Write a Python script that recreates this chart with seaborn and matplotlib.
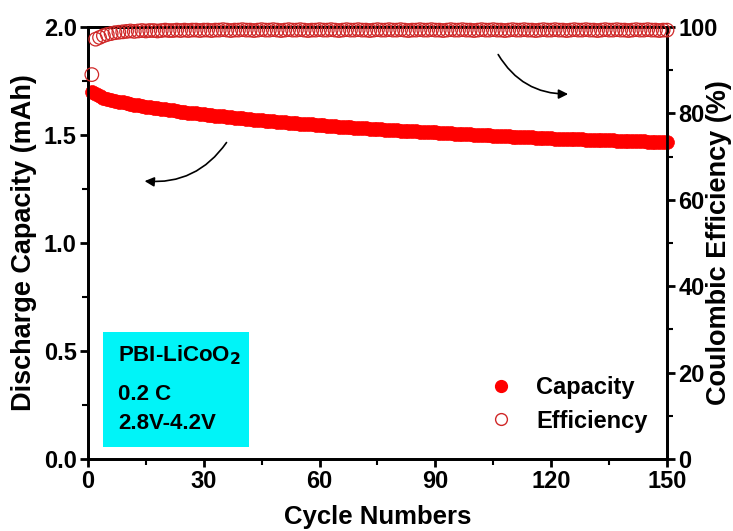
import numpy as np
import pandas as pd
import matplotlib
matplotlib.use('Agg')
import matplotlib.pyplot as plt
import seaborn as sns
from matplotlib.lines import Line2D
from matplotlib.patches import Rectangle
from matplotlib.ticker import MultipleLocator, FormatStrFormatter

# Datos
ciclos = list(range(1, 151))

capacidad = [
    1.700, 1.688, 1.680, 1.673, 1.667, 1.662, 1.658, 1.654, 1.651, 1.647,
    1.644, 1.641, 1.638, 1.635, 1.632, 1.629, 1.627, 1.624, 1.621, 1.619,
    1.616, 1.614, 1.611, 1.609, 1.607, 1.604, 1.602, 1.600, 1.598, 1.596,
    1.594, 1.592, 1.590, 1.588, 1.586, 1.584, 1.582, 1.580, 1.578, 1.577,
    1.575, 1.573, 1.571, 1.570, 1.568, 1.566, 1.565, 1.563, 1.562, 1.560,
    1.559, 1.557, 1.556, 1.554, 1.553, 1.551, 1.550, 1.549, 1.547, 1.546,
    1.545, 1.543, 1.542, 1.541, 1.539, 1.538, 1.537, 1.536, 1.534, 1.533,
    1.532, 1.531, 1.530, 1.528, 1.527, 1.526, 1.525, 1.524, 1.523, 1.522,
    1.521, 1.520, 1.519, 1.518, 1.517, 1.516, 1.515, 1.514, 1.513, 1.512,
    1.511, 1.510, 1.509, 1.508, 1.507, 1.506, 1.505, 1.504, 1.503, 1.502,
    1.501, 1.500, 1.499, 1.498, 1.497, 1.497, 1.496, 1.495, 1.494, 1.493,
    1.492, 1.491, 1.491, 1.490, 1.489, 1.488, 1.487, 1.487, 1.486, 1.485,
    1.484, 1.484, 1.483, 1.482, 1.482, 1.481, 1.480, 1.480, 1.479, 1.478,
    1.478, 1.477, 1.477, 1.476, 1.475, 1.475, 1.474, 1.474, 1.473, 1.473,
    1.472, 1.472, 1.471, 1.471, 1.470, 1.470, 1.469, 1.469, 1.468, 1.468,
]

eficiencia = [
    89.0, 97.2, 97.6, 98.0, 98.3, 98.5, 98.7, 98.8, 98.9, 99.0,
    99.1, 99.0, 99.1, 99.2, 99.1, 99.2, 99.2, 99.1, 99.2, 99.3,
    99.2, 99.2, 99.3, 99.2, 99.3, 99.2, 99.3, 99.3, 99.2, 99.3,
    99.3, 99.2, 99.3, 99.3, 99.4, 99.3, 99.2, 99.3, 99.3, 99.4,
    99.3, 99.3, 99.2, 99.3, 99.4, 99.3, 99.3, 99.4, 99.3, 99.2,
    99.3, 99.4, 99.3, 99.3, 99.4, 99.3, 99.2, 99.3, 99.3, 99.4,
    99.3, 99.3, 99.4, 99.3, 99.2, 99.3, 99.4, 99.3, 99.3, 99.4,
    99.3, 99.3, 99.2, 99.3, 99.4, 99.3, 99.3, 99.4, 99.3, 99.3,
    99.4, 99.3, 99.2, 99.3, 99.3, 99.4, 99.3, 99.3, 99.4, 99.3,
    99.3, 99.2, 99.3, 99.4, 99.3, 99.3, 99.4, 99.3, 99.3, 99.2,
    99.3, 99.4, 99.3, 99.3, 99.4, 99.3, 99.3, 99.2, 99.3, 99.4,
    99.3, 99.3, 99.4, 99.3, 99.3, 99.2, 99.3, 99.4, 99.3, 99.3,
    99.4, 99.3, 99.3, 99.2, 99.3, 99.4, 99.3, 99.3, 99.4, 99.3,
    99.3, 99.2, 99.3, 99.4, 99.3, 99.3, 99.4, 99.3, 99.3, 99.2,
    99.3, 99.4, 99.3, 99.3, 99.4, 99.3, 99.3, 99.2, 99.3, 99.3,
]

etiquetas_caja = ['PBI-LiCoO$_\\mathbf{2}$', '0.2 C', '2.8V-4.2V']


def main():
    df = pd.DataFrame({'Ciclo': ciclos, 'Capacidad': capacidad, 'Eficiencia': eficiencia})

    sns.set_theme(style="ticks")
    plt.rcParams['font.family'] = ['Liberation Sans', 'DejaVu Sans']
    plt.rcParams['font.weight'] = 'bold'
    plt.rcParams['mathtext.default'] = 'bf'
    plt.rcParams['text.color'] = 'black'
    plt.rcParams['axes.labelcolor'] = 'black'
    plt.rcParams['xtick.color'] = 'black'
    plt.rcParams['ytick.color'] = 'black'

    fig = plt.figure(figsize=(7.33, 5.31), dpi=100)
    ax = fig.add_axes([0.120, 0.1356, 0.790, 0.8134])
    ax2 = ax.twinx()

    # Capacidad (círculos rellenos)
    sns.scatterplot(data=df, x='Ciclo', y='Capacidad', ax=ax, marker='o', s=100,
                    color='#ff0000', edgecolor='#ff0000', linewidth=0.5,
                    clip_on=False, zorder=3, legend=False)
    # Eficiencia (círculos abiertos)
    sns.scatterplot(data=df, x='Ciclo', y='Eficiencia', ax=ax2, marker='o', s=95,
                    facecolor='none', edgecolor='#d02828', linewidth=0.9,
                    clip_on=False, zorder=3, legend=False)

    ax.set_xlim(0, 150)
    ax.set_ylim(0, 2.0)
    ax2.set_ylim(0, 100)

    ax.xaxis.set_major_locator(MultipleLocator(30))
    ax.xaxis.set_minor_locator(MultipleLocator(15))
    ax.yaxis.set_major_locator(MultipleLocator(0.5))
    ax.yaxis.set_minor_locator(MultipleLocator(0.25))
    ax2.yaxis.set_major_locator(MultipleLocator(20))
    ax2.yaxis.set_minor_locator(MultipleLocator(10))
    ax.yaxis.set_major_formatter(FormatStrFormatter('%.1f'))

    for a in (ax, ax2):
        for s in a.spines.values():
            s.set_linewidth(2.0)
            s.set_color('black')
        a.tick_params(which='major', direction='out', length=6, width=2,
                      labelsize=17, colors='black', pad=2)
        a.tick_params(which='minor', direction='out', length=4, width=1.5, colors='black')

    ax.set_xlabel('Cycle Numbers', fontsize=18.5, fontweight='bold')
    ax.set_ylabel('Discharge Capacity (mAh)', fontsize=19.5, fontweight='bold')
    ax2.set_ylabel('Coulombic Efficiency (%)', fontsize=19.5, fontweight='bold')
    ax.xaxis.set_label_coords(0.5, -0.106)
    ax.yaxis.set_label_coords(-0.088, 0.5)
    ax2.yaxis.set_label_coords(1.068, 0.5)

    # Caja cian con condiciones del ensayo
    ax.add_patch(Rectangle((0.026, 0.028), 0.252, 0.266, transform=ax.transAxes,
                           facecolor='#00f4f8', edgecolor='none', zorder=1))
    for txt, yy in zip(etiquetas_caja, [0.240, 0.150, 0.082]):
        ax.text(0.052, yy, txt, transform=ax.transAxes, fontsize=16,
                fontweight='bold', va='center', ha='left', zorder=2)

    # Flechas
    ax.annotate('', xy=(0.093, 0.644), xytext=(0.242, 0.738),
                xycoords='axes fraction', textcoords='axes fraction',
                arrowprops=dict(arrowstyle='-|>', color='black', lw=1.2,
                                mutation_scale=14,
                                connectionstyle='arc3,rad=-0.3'))
    ax.annotate('', xy=(0.834, 0.845), xytext=(0.706, 0.942),
                xycoords='axes fraction', textcoords='axes fraction',
                arrowprops=dict(arrowstyle='-|>', color='black', lw=1.2,
                                mutation_scale=14,
                                connectionstyle='arc3,rad=0.3'))

    # Leyenda
    handles = [
        Line2D([], [], marker='o', linestyle='none', markersize=8.5,
               markerfacecolor='#ff0000', markeredgecolor='#ff0000'),
        Line2D([], [], marker='o', linestyle='none', markersize=8.5,
               markerfacecolor='none', markeredgecolor='#d02828', markeredgewidth=1),
    ]
    ax2.legend(handles, ['Capacity', 'Efficiency'], loc='lower left',
               bbox_to_anchor=(0.648, 0.012), frameon=False,
               prop={'size': 17, 'weight': 'bold'},
               handletextpad=0.8, labelspacing=0.45, handlelength=1.4)

    plt.savefig('out.png', dpi=100)
    plt.close()


if __name__ == "__main__":
    main()
